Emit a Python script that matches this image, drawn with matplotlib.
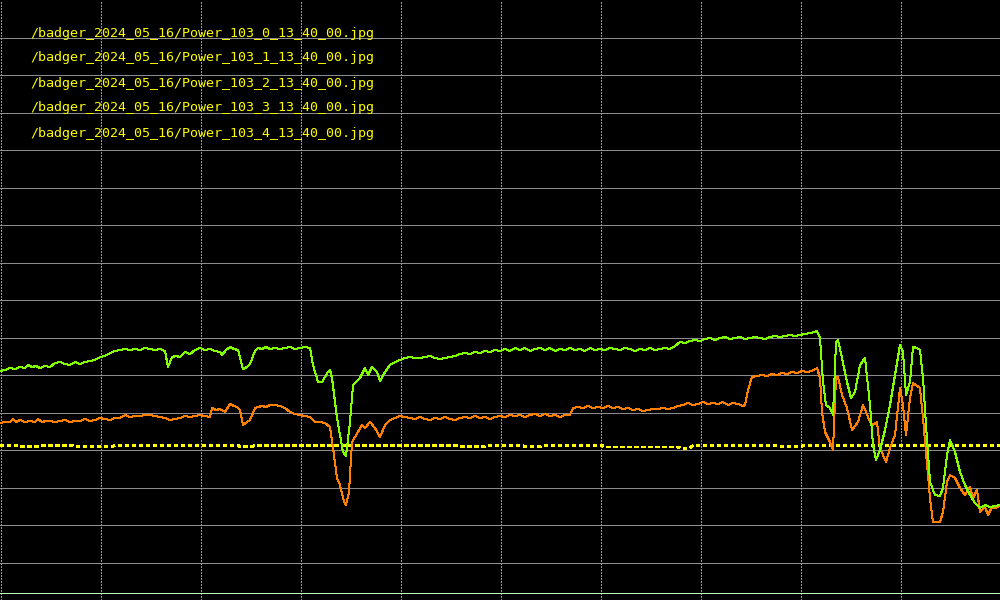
import matplotlib
matplotlib.use("Agg")
import matplotlib.pyplot as plt

# ---- data (arbitrary units; gridlines every 37.5) ----
labels = [
    "/badger_2024_05_16/Power_103_0_13_40_00.jpg",
    "/badger_2024_05_16/Power_103_1_13_40_00.jpg",
    "/badger_2024_05_16/Power_103_2_13_40_00.jpg",
    "/badger_2024_05_16/Power_103_3_13_40_00.jpg",
    "/badger_2024_05_16/Power_103_4_13_40_00.jpg",
]

green_x = [0, 5, 10, 15, 20, 25, 28, 32, 36, 40, 45, 50, 55, 60, 65, 70, 75, 80, 85, 90, 95, 100, 105,
           110, 115, 120, 125, 130, 135, 140, 145, 150, 155, 160, 165, 168, 172, 176, 180, 185, 190, 195,
           200, 205, 210, 215, 220, 222, 226, 230, 234, 238, 243, 247, 250, 255, 258, 262, 266, 270, 275,
           280, 285, 290, 295, 300, 305, 310,
           313, 318, 322, 328, 330, 332, 337, 343, 346, 350, 353, 360, 365, 368, 372, 377,
           380, 385, 390, 395, 400, 405, 410, 415, 420, 425, 430, 435, 440, 445, 450, 455, 460, 465, 470,
           475, 480, 485, 490, 495, 500, 505, 510, 515, 520, 525, 530, 535, 540, 545, 550, 555, 560, 565,
           570, 575, 580, 585, 590, 595, 600, 605, 610, 615, 620, 625, 630, 635, 640, 645, 650, 655, 660,
           665, 670, 675, 680, 685, 690, 695, 700, 705, 710, 715, 720, 725, 730, 735, 740, 745, 750, 755,
           760, 765, 770, 775, 780, 785, 790, 795, 800, 805, 810, 815, 817,
           820, 823, 826, 830, 833, 836, 838,
           842, 847, 851, 855, 860, 865, 870, 873, 876, 880, 885, 890, 895, 900, 903, 906, 910, 913,
           917, 920, 923, 926, 930, 935, 940, 943, 947, 950, 955, 960, 965, 970, 975, 980, 985, 990, 995, 1000]
green_y = [229, 230, 232, 231, 233, 232, 235, 233, 234, 232, 234, 233, 237, 238, 236, 235, 238, 236, 238,
           239, 240, 243, 244, 247, 249, 250, 251, 250, 251, 250, 252, 251, 250, 251, 249, 233, 243, 244,
           243, 248, 246, 250, 252, 250, 251, 249, 248, 245, 250, 253, 251, 250, 231, 233, 236, 249, 252,
           251, 253, 251, 252, 251, 252, 253, 251, 252, 253, 252,
           235, 218, 218, 228, 230, 222, 182, 148, 144, 178, 215, 222, 232, 225, 233, 228,
           219, 228, 235, 238, 240, 242, 243, 242, 242, 243, 244, 242, 241, 242, 243, 244, 246, 247, 246,
           248, 247, 249, 248, 250, 249, 251, 249, 252, 250, 252, 249, 251, 252, 250, 252, 249, 251, 250,
           252, 250, 251, 249, 252, 250, 251, 250, 252, 251, 250, 252, 251, 249, 251, 250, 252, 250, 251,
           252, 251, 254, 258, 257, 259, 260, 259, 261, 262, 260, 262, 263, 261, 262, 263, 261, 262, 263,
           262, 261, 263, 264, 263, 264, 265, 264, 265, 266, 267, 268, 269,
           262, 218, 195, 192, 185, 258, 260,
           242, 218, 202, 208, 235, 242, 195, 155, 140, 150, 170, 195, 225, 255, 248, 205, 218, 253,
           252, 250, 222, 175, 118, 105, 104, 112, 145, 160, 148, 128, 115, 105, 97, 92, 95, 93, 94, 95]

orange_x = [0, 5, 10, 13, 16, 20, 25, 30, 35, 38, 42, 46, 50, 55, 60, 65, 70, 75, 80, 85, 90, 95, 100,
            105, 110, 115, 120, 125, 130, 135, 140, 145, 150, 155, 160, 165, 170, 175, 180, 185, 190, 195,
            200, 205, 210, 212, 216, 220, 225, 230, 234, 237, 240, 243, 247, 250, 255, 258, 262, 266, 270,
            275, 280, 285, 290, 295, 300, 305, 310, 315, 320, 325, 330,
            333, 337, 340, 344, 346, 349, 352, 358, 362, 365, 370, 375, 380, 385,
            390, 395, 400, 405, 410, 415, 420, 425, 430, 435, 440, 445, 450, 455, 460, 465, 470, 475, 480,
            485, 490, 495, 500, 505, 510, 515, 520, 525, 530, 535, 540, 545, 550, 555, 560, 565, 570, 573,
            578, 583, 588, 593, 598, 603, 608, 613, 618, 623, 628, 633, 638, 643, 648, 653, 658, 663, 668,
            673, 678, 683, 688, 693, 698, 703, 708, 713, 718, 723, 728, 733, 738, 743, 745, 748, 752, 757,
            762, 767, 772, 777, 782, 787, 792, 797, 802, 807, 812, 817,
            820, 822, 825, 830, 833, 836, 838, 842, 847, 852, 858,
            863, 866, 870, 873, 877, 880, 886, 890, 895, 900, 903, 906, 910, 913, 920, 923, 926, 930,
            933, 940, 943, 947, 950, 955, 960, 965, 970, 973, 977, 980, 985, 988, 992, 996, 1000]
orange_y = [177, 178, 178, 181, 178, 180, 178, 179, 178, 181, 178, 179, 179, 178, 179, 180, 178, 179, 179,
            181, 179, 180, 182, 181, 180, 182, 182, 185, 183, 184, 184, 185, 185, 184, 183, 182, 180, 181,
            182, 184, 183, 184, 185, 184, 183, 192, 190, 191, 188, 196, 194, 193, 190, 175, 178, 180, 192,
            193, 194, 193, 195, 195, 194, 192, 188, 186, 185, 184, 183, 178, 178, 177, 173,
            152, 122, 115, 98, 95, 108, 158, 168, 175, 172, 178, 172, 163, 175,
            180, 182, 184, 183, 182, 181, 183, 181, 180, 182, 181, 183, 181, 180, 182, 183, 182, 184, 182,
            183, 181, 183, 184, 183, 185, 184, 185, 183, 185, 186, 184, 186, 184, 185, 183, 185, 185, 192,
            193, 192, 194, 192, 193, 192, 194, 192, 193, 191, 192, 190, 191, 189, 190, 191, 191, 192, 191,
            192, 194, 195, 197, 195, 196, 198, 196, 197, 196, 198, 195, 197, 196, 194, 195, 210, 223, 224,
            225, 224, 226, 225, 227, 226, 228, 227, 229, 228, 229, 232,
            222, 188, 168, 158, 150, 222, 223, 205, 192, 170, 178,
            195, 188, 178, 175, 178, 152, 138, 152, 165, 212, 195, 165, 202, 217, 212, 182, 148, 102,
            78, 78, 88, 118, 125, 122, 112, 105, 113, 102, 110, 88, 93, 85, 93, 92, 95]

yellow_x = [0, 20, 22, 37, 40, 73, 75, 112, 115, 238, 240, 252, 255, 458, 460, 484, 487, 522, 525, 540,
            542, 602, 605, 678, 682, 690, 693, 778, 780, 800, 805, 1000]
yellow_y = [154.5, 154.5, 153.5, 153.5, 154.5, 154.5, 153.5, 153.5, 154.5, 154.5, 153.5, 153.5, 154.5,
            154.5, 153.5, 153.5, 154.5, 154.5, 153.5, 153.5, 154.5, 154.5, 153, 153, 151.5, 152, 154.5,
            154.5, 153.5, 153.5, 154.5, 154.5]

mint_x = [0, 100, 200, 300, 400, 500, 600, 700, 800, 900, 1000]
mint_y = [7, 7, 7, 7, 7, 7, 7, 7, 7, 7, 7]

grid_y = [37.5 * k for k in range(1, 16)]
grid_x = [0, 100, 200, 300, 400, 500, 600, 700, 800, 900]

# ---- figure ----
fig = plt.figure(figsize=(10, 6), dpi=100, facecolor="black")
ax = fig.add_axes([0, 0, 1, 1], facecolor="black")
ax.set_xlim(0, 1000)
ax.set_ylim(0, 600)
for s in ax.spines.values():
    s.set_visible(False)
ax.set_xticks([])
ax.set_yticks([])

for gy in grid_y:
    ax.axhline(gy, color="#8c8c8c", lw=0.72, antialiased=False, zorder=1)
for gx in grid_x:
    ax.axvline(gx + 0.5, color="#999999", lw=0.72, linestyle=(0, (2, 2)), antialiased=False, zorder=1)

ax.plot(mint_x, mint_y, color="#c0ffc0", lw=0.72, antialiased=False, zorder=3)
ax.plot(yellow_x, yellow_y, color="#ffff00", lw=1.44, linestyle=(0, (1.5, 1.8)),
        antialiased=False, zorder=3)
ax.plot(orange_x, orange_y, color="#ff7f00", lw=0.72, antialiased=False, zorder=4)
ax.plot(green_x, green_y, color="#7fff00", lw=0.72, antialiased=False, zorder=5)

for i, lab in enumerate(labels):
    fig.text(30 / 1000, 1 - (33 + 25 * i) / 600, lab, color="#ffff00",
             family="DejaVu Sans Mono", fontsize=9.6, va="center", ha="left")

fig.savefig("out.png", dpi=100, facecolor="black")
